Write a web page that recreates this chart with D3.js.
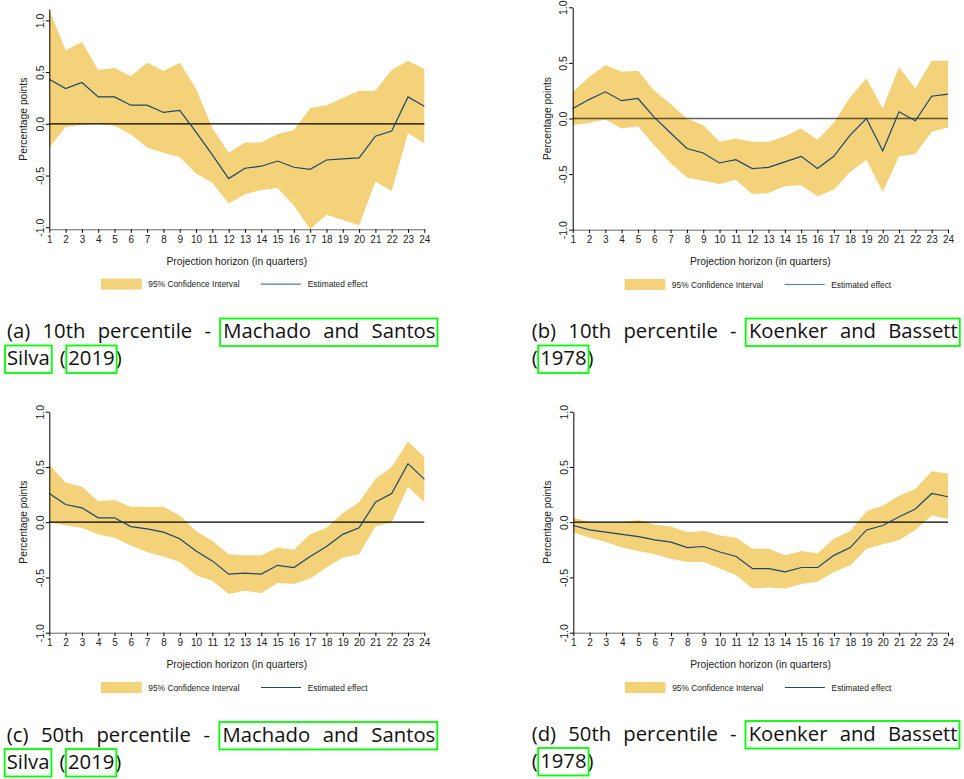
<!DOCTYPE html>
<html>
<head>
<meta charset="utf-8">
<script src="https://cdn.jsdelivr.net/npm/d3@7"></script>
<style>
  body { margin: 0; background: #fff; }
  svg { display: block; }
</style>
</head>
<body>
<div id="chart"></div>
<script>
// horizon (quarters) and y ticks
const quarters = [1, 2, 3, 4, 5, 6, 7, 8, 9, 10, 11, 12, 13, 14, 15, 16, 17, 18, 19, 20, 21, 22, 23, 24]
const yTicks = [-1, -0.5, 0, 0.5, 1]

// (a) 10th percentile - Machado and Santos Silva
const mss10Est = [0.43, 0.34, 0.40, 0.26, 0.26, 0.18, 0.18, 0.11, 0.13, -0.08, -0.30, -0.53, -0.43, -0.41, -0.36, -0.42, -0.44, -0.35, -0.34, -0.33, -0.12, -0.07, 0.26, 0.17]
const mss10Hi = [1.10, 0.71, 0.79, 0.52, 0.54, 0.46, 0.59, 0.51, 0.59, 0.34, -0.04, -0.28, -0.18, -0.18, -0.10, -0.06, 0.15, 0.18, 0.25, 0.32, 0.32, 0.52, 0.61, 0.53]
const mss10Lo = [-0.23, -0.03, -0.01, 0.00, -0.02, -0.10, -0.23, -0.28, -0.32, -0.48, -0.57, -0.77, -0.68, -0.64, -0.62, -0.79, -1.02, -0.88, -0.93, -0.98, -0.56, -0.65, -0.09, -0.19]

// (b) 10th percentile - Koenker and Bassett
const kb10Est = [0.09, 0.17, 0.24, 0.16, 0.18, 0.01, -0.13, -0.27, -0.31, -0.40, -0.37, -0.45, -0.44, -0.39, -0.34, -0.45, -0.34, -0.15, 0.00, -0.29, 0.06, -0.02, 0.20, 0.22]
const kb10Hi = [0.24, 0.37, 0.48, 0.42, 0.43, 0.25, 0.13, 0.00, -0.06, -0.21, -0.18, -0.21, -0.21, -0.16, -0.09, -0.19, -0.04, 0.19, 0.36, 0.09, 0.46, 0.27, 0.52, 0.52]
const kb10Lo = [-0.06, -0.04, -0.01, -0.09, -0.07, -0.24, -0.40, -0.53, -0.56, -0.59, -0.55, -0.68, -0.67, -0.61, -0.60, -0.70, -0.64, -0.48, -0.37, -0.66, -0.34, -0.32, -0.12, -0.08]

// (c) 50th percentile - Machado and Santos Silva
const mss50Est = [0.26, 0.16, 0.13, 0.04, 0.04, -0.04, -0.06, -0.09, -0.15, -0.26, -0.35, -0.47, -0.46, -0.47, -0.39, -0.41, -0.31, -0.22, -0.11, -0.05, 0.18, 0.26, 0.53, 0.39]
const mss50Hi = [0.52, 0.36, 0.32, 0.19, 0.20, 0.14, 0.14, 0.14, 0.06, -0.08, -0.17, -0.29, -0.30, -0.30, -0.23, -0.25, -0.11, -0.05, 0.08, 0.18, 0.39, 0.50, 0.73, 0.59]
const mss50Lo = [0.00, -0.03, -0.05, -0.11, -0.14, -0.21, -0.27, -0.31, -0.36, -0.48, -0.53, -0.65, -0.62, -0.64, -0.55, -0.56, -0.51, -0.41, -0.32, -0.29, -0.04, 0.00, 0.32, 0.18]

// (d) 50th percentile - Koenker and Bassett
const kb50Est = [-0.03, -0.07, -0.09, -0.11, -0.13, -0.16, -0.18, -0.23, -0.22, -0.27, -0.31, -0.42, -0.42, -0.45, -0.41, -0.41, -0.30, -0.23, -0.07, -0.03, 0.05, 0.12, 0.26, 0.23]
const kb50Hi = [0.04, 0.00, 0.00, 0.00, 0.02, -0.02, -0.04, -0.09, -0.08, -0.12, -0.14, -0.24, -0.24, -0.30, -0.26, -0.28, -0.15, -0.08, 0.10, 0.15, 0.24, 0.30, 0.46, 0.44]
const kb50Lo = [-0.09, -0.14, -0.18, -0.23, -0.26, -0.29, -0.33, -0.36, -0.36, -0.42, -0.48, -0.60, -0.59, -0.60, -0.56, -0.54, -0.45, -0.39, -0.24, -0.20, -0.16, -0.07, 0.06, 0.03]

const legendLabels = ["95% Confidence Interval", "Estimated effect"]
const xTitle = "Projection horizon (in quarters)"
const yTitle = "Percentage points"

const bandColor = "#f4d27a"
const lineColor = "#1a476f"
const chartFont = "'Liberation Sans', Arial, sans-serif"
const capFont = "'Open Sans', Lato, sans-serif"

const panels = [
  { est: mss10Est, lo: mss10Lo, hi: mss10Hi, x0: 49.3, x1: 424.3, yTop: 9, yBot: 229.3, yMin: -1.02, yMax: 1.11,
    zero: "#000", zeroOp: 1, legLine: "#4f7fab",
    cap: { left: 7, right: 435.5, base: 338, line1: ["(a)", "10th", "percentile", "-", "Machado", "and", "Santos"], box: [4, 6],
           line2: [{ t: "Silva", box: true }, { t: "(", pad: 10 }, { t: "2019", box: true, pad: 2.5 }, { t: ")", pad: 1 }] } },
  { est: kb10Est, lo: kb10Lo, hi: kb10Hi, x0: 572.7, x1: 948, yTop: 7.3, yBot: 229.7, yMin: -1, yMax: 1,
    zero: "#000", zeroOp: 0.62, legLine: "#4f7fab",
    cap: { left: 531.7, right: 957.8, base: 338, line1: ["(b)", "10th", "percentile", "-", "Koenker", "and", "Bassett"], box: [4, 6],
           line2: [{ t: "(" }, { t: "1978", box: true, pad: 2.5 }, { t: ")", pad: 1 }] } },
  { est: mss50Est, lo: mss50Lo, hi: mss50Hi, x0: 49.3, x1: 424.3, yTop: 411.7, yBot: 632.7, yMin: -1, yMax: 1,
    zero: "#000", zeroOp: 1, legLine: lineColor,
    cap: { left: 6.7, right: 435.3, base: 741.5, line1: ["(c)", "50th", "percentile", "-", "Machado", "and", "Santos"], box: [4, 6],
           line2: [{ t: "Silva", box: true }, { t: "(", pad: 10 }, { t: "2019", box: true, pad: 2.5 }, { t: ")", pad: 1 }] } },
  { est: kb50Est, lo: kb50Lo, hi: kb50Hi, x0: 573.3, x1: 948, yTop: 411.7, yBot: 632.7, yMin: -1, yMax: 1,
    zero: "#000", zeroOp: 1, legLine: lineColor,
    cap: { left: 531.7, right: 957.5, base: 740.5, line1: ["(d)", "50th", "percentile", "-", "Koenker", "and", "Bassett"], box: [4, 6],
           line2: [{ t: "(" }, { t: "1978", box: true, pad: 2.5 }, { t: ")", pad: 1 }] } }
]

const svg = d3.select("#chart").append("svg")
  .attr("width", 964)
  .attr("height", 779)

var drawPanel = function (p) {
  const x = d3.scaleLinear().domain([1, 24]).range([p.x0, p.x1])
  const y = d3.scaleLinear().domain([p.yMin, p.yMax]).range([p.yBot, p.yTop])
  const rows = quarters.map((q, i) => ({ q: q, est: p.est[i], lo: p.lo[i], hi: p.hi[i] }))
  const g = svg.append("g")

  g.append("path").datum(rows)
    .attr("fill", bandColor)
    .attr("d", d3.area().x(d => x(d.q)).y0(d => y(d.lo)).y1(d => y(d.hi)))

  g.append("line")
    .attr("x1", x(1)).attr("x2", x(24))
    .attr("y1", y(0)).attr("y2", y(0))
    .attr("stroke", p.zero).attr("stroke-opacity", p.zeroOp)
    .attr("stroke-width", p.zeroOp < 1 ? 1.6 : 1.2)

  g.append("path").datum(rows)
    .attr("fill", "none")
    .attr("stroke", lineColor)
    .attr("stroke-width", 1.2)
    .attr("d", d3.line().x(d => x(d.q)).y(d => y(d.est)))

  // y axis, labels turned like Stata does
  const ya = g.append("g")
    .attr("transform", `translate(${p.x0},0)`)
    .call(d3.axisLeft(y).tickValues(yTicks).tickSize(3.5).tickSizeOuter(0).tickFormat(d => d.toFixed(1)))
  ya.select(".domain").attr("stroke", "#000")
  ya.selectAll(".tick line").attr("stroke", "#000")
  ya.selectAll(".tick text")
    .attr("transform", "rotate(-90)")
    .attr("x", 0).attr("y", -5.5).attr("dy", 0)
    .attr("text-anchor", "middle")
    .attr("font-family", chartFont).attr("font-size", 10.5).attr("fill", "#222")

  const xa = g.append("g")
    .attr("transform", `translate(0,${p.yBot})`)
    .call(d3.axisBottom(x).tickValues(quarters).tickSize(3.5).tickSizeOuter(0).tickPadding(3))
  xa.select(".domain").attr("stroke", "#666")
  xa.selectAll(".tick line").attr("stroke", "#000")
  xa.selectAll(".tick text").attr("font-family", chartFont).attr("font-size", 10).attr("fill", "#222")

  const mid = (p.x0 + p.x1) / 2
  g.append("text")
    .attr("x", mid).attr("y", p.yBot + 35.5)
    .attr("text-anchor", "middle")
    .attr("font-family", chartFont).attr("font-size", 10.3).attr("fill", "#222")
    .text(xTitle)

  g.append("text")
    .attr("transform", `translate(${p.x0 - 22},${(p.yTop + p.yBot) / 2}) rotate(-90)`)
    .attr("text-anchor", "middle")
    .attr("font-family", chartFont).attr("font-size", 10.3).attr("fill", "#222")
    .text(yTitle)

  // legend
  const ly = p.yBot + 54.8
  g.append("rect")
    .attr("x", mid - 135.8).attr("y", ly - 5.5)
    .attr("width", 40.7).attr("height", 11)
    .attr("fill", bandColor)
  g.append("text")
    .attr("x", mid - 88.5).attr("y", ly + 3)
    .attr("font-family", chartFont).attr("font-size", 8.4).attr("fill", "#222")
    .text(legendLabels[0])
  g.append("line")
    .attr("x1", mid + 24.2).attr("x2", mid + 64.2)
    .attr("y1", ly).attr("y2", ly)
    .attr("stroke", p.legLine).attr("stroke-width", 1.2)
  g.append("text")
    .attr("x", mid + 70.9).attr("y", ly + 3)
    .attr("font-family", chartFont).attr("font-size", 8.4).attr("fill", "#222")
    .text(legendLabels[1])

  drawCaption(p.cap)
}

// justified first line, then a left aligned second line; green link boxes
var drawCaption = function (c) {
  const g = svg.append("g")
    .attr("font-family", capFont).attr("font-size", 20.3).attr("fill", "#111")
  const words = c.line1.map(w => g.append("text").attr("y", c.base).text(w))
  const widths = words.map(t => t.node().getComputedTextLength())
  const gap = (c.right - c.left - d3.sum(widths)) / (words.length - 1)
  let cx = c.left
  const pos = []
  words.forEach((t, i) => {
    t.attr("x", cx)
    pos.push([cx, cx + widths[i]])
    cx += widths[i] + gap
  })
  const boxes = [[pos[c.box[0]][0] - 3.2, pos[c.box[1]][1] + 2, c.base]]

  const base2 = c.base + 27
  cx = c.left
  c.line2.forEach(piece => {
    cx += piece.pad || 0
    const t = g.append("text").attr("x", cx).attr("y", base2).text(piece.t)
    const w = t.node().getComputedTextLength()
    if (piece.box) boxes.push([cx - 2, cx + w + 2, base2])
    cx += w
  })

  boxes.forEach(b => {
    g.append("rect")
      .attr("x", b[0]).attr("y", b[2] - 19.5)
      .attr("width", b[1] - b[0]).attr("height", 27.5)
      .attr("fill", "none")
      .attr("stroke", "#00ff00").attr("stroke-width", 1.8)
  })
}

panels.forEach(drawPanel)
</script>
</body>
</html>
